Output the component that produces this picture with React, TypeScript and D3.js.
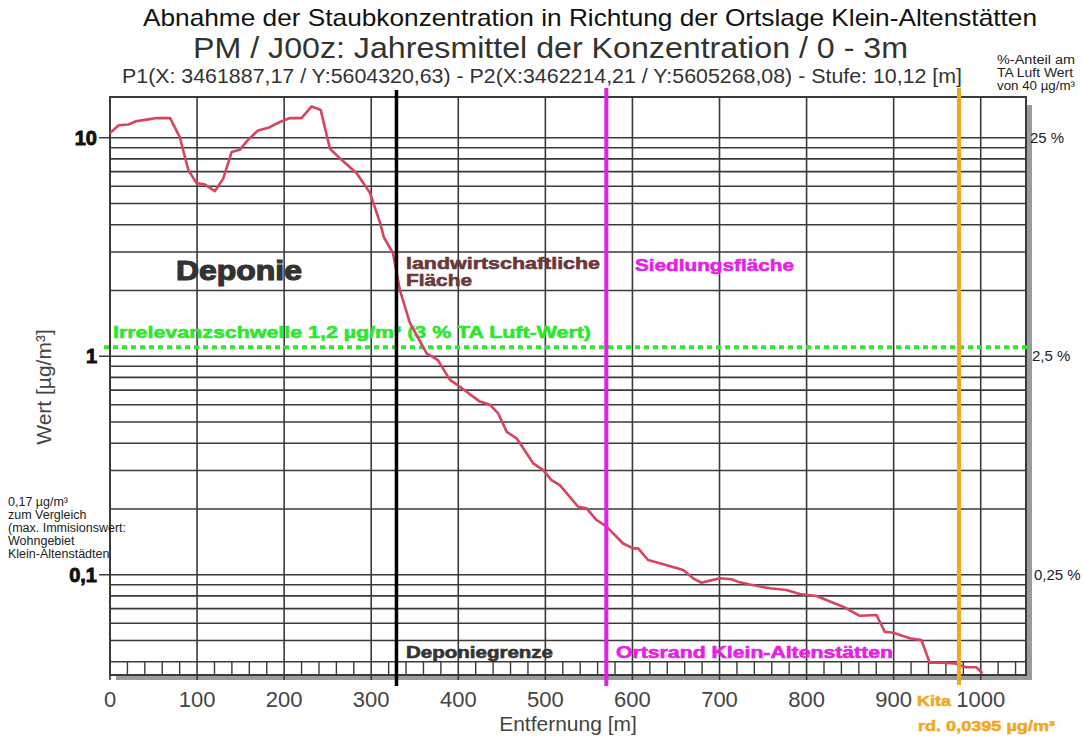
import React from "react";
import * as d3 from "d3";

const distances = [0, 10, 21, 30, 42, 54, 69, 80, 90, 99.5, 109, 120.5, 130, 139.7, 149, 158.8, 170, 181.7, 195, 206.7, 220, 231.6, 242, 252.6, 264, 283, 298.5, 310, 314.6, 325, 333, 344.4, 363.6, 376.6, 390.4, 401.8, 424.8, 436.3, 445.8, 455.5, 467, 486, 497.5, 507, 516.6, 537.6, 547.3, 558.8, 570.3, 589.3, 600.8, 606.5, 618, 631.5, 658.3, 669.8, 679.3, 688.9, 700.3, 713.8, 723.3, 734.8, 757.8, 776.9, 792.2, 811.4, 830.5, 842, 861, 880.3, 889.8, 899.4, 918.5, 931.9, 941.4, 956.7, 970, 983.6, 995, 1002];
const values = [10.5, 11.4, 11.5, 11.9, 12.1, 12.3, 12.3, 10.1, 7.1, 6.2, 6.1, 5.7, 6.5, 8.6, 8.8, 9.8, 10.8, 11.1, 11.8, 12.3, 12.3, 13.9, 13.4, 8.9, 8.05, 6.9, 5.6, 4.1, 3.5, 2.96, 2.0, 1.42, 1.03, 0.96, 0.78, 0.725, 0.62, 0.6, 0.548, 0.451, 0.421, 0.3235, 0.301, 0.271, 0.257, 0.2048, 0.2013, 0.178, 0.166, 0.139, 0.132, 0.132, 0.1168, 0.1128, 0.105, 0.0963, 0.0919, 0.094, 0.0963, 0.0953, 0.0923, 0.0902, 0.0867, 0.0851, 0.0816, 0.0799, 0.0744, 0.0714, 0.0649, 0.0654, 0.0548, 0.0543, 0.0512, 0.0502, 0.0396, 0.0396, 0.0393, 0.0377, 0.0377, 0.0354];

const xDomain = [0, 1052];
const yDomain = [0.03477, 15.36];
const xTicks = [0, 100, 200, 300, 400, 500, 600, 700, 800, 900, 1000];
const yMajorTicks = [10, 1, 0.1];
const yMajorLabels = ["10", "1", "0,1"];
const yGridValues = [10, 9, 8, 7, 6, 5, 4, 3, 2, 1, 0.9, 0.8, 0.7, 0.6, 0.5, 0.4, 0.3, 0.2, 0.1, 0.09, 0.08, 0.07, 0.06, 0.05, 0.04];
const percentLabels = ["25 %", "2,5 %", "0,25 %"];
const threshold = 1.1;
const deponieGrenze = 329;
const ortsrand = 570;
const kita = 975;

const titleLines = [
  "Abnahme der Staubkonzentration in Richtung der Ortslage Klein-Altenstätten",
  "PM / J00z: Jahresmittel der Konzentration / 0 - 3m",
  "P1(X: 3461887,17 / Y:5604320,63) - P2(X:3462214,21 / Y:5605268,08) - Stufe: 10,12 [m]",
];
const noteRight = ["%-Anteil am", "TA Luft Wert", "von 40 µg/m³"];
const noteLeft = ["0,17 µg/m³", "zum Vergleich", "(max. Immisionswert:", "Wohngebiet", "Klein-Altenstädten"];

export default function App() {
  const W = 1084, H = 739;
  const left = 110, right = 1026, top = 97, bottom = 675;
  const x = d3.scaleLinear().domain(xDomain).range([left, right]);
  const y = d3.scaleLog().domain(yDomain).range([bottom, top]);
  const pts: [number, number][] = distances.map((d, i) => [d, values[i]]);
  const line = d3.line<[number, number]>().x(d => x(d[0])).y(d => y(d[1]));
  const minorTicks = d3.range(20, 1050, 20).filter(v => v % 100 !== 0);
  const font = "'Liberation Sans', Arial, sans-serif";
  const grid = "#3a3a3a";
  const heavy = (c: string, w = 0.7) => ({ fill: c, stroke: c, strokeWidth: w });

  return (
    <svg width={W} height={H} style={{ position: "absolute", left: 0, top: 0, background: "#fff" }} fontFamily={font}>
      <rect x={0} y={0} width={W} height={H} fill="#fff" />
      {/* titles */}
      <text x={143} y={26} fontSize={24} fill="#111" textLength={894} lengthAdjust="spacingAndGlyphs">{titleLines[0]}</text>
      <text x={193} y={58} fontSize={29} fill="#333" textLength={715} lengthAdjust="spacingAndGlyphs">{titleLines[1]}</text>
      <text x={122} y={83} fontSize={20} fill="#333" textLength={840} lengthAdjust="spacingAndGlyphs">{titleLines[2]}</text>
      {noteRight.map((t, i) => (
        <text key={t} x={997} y={64 + i * 13} fontSize={12.5} fill="#222" textLength={[78, 76, 78][i]} lengthAdjust="spacingAndGlyphs">{t}</text>
      ))}
      {/* shadows */}
      <rect x={right + 1} y={top + 8} width={5} height={bottom - top - 3} fill="#9a9aa2" />
      <rect x={left + 6} y={bottom} width={right - left} height={5} fill="#9a9aa2" />
      {/* horizontal grid */}
      {yGridValues.map(v => (
        <line key={v} x1={left} x2={right} y1={y(v)} y2={y(v)} stroke={grid} strokeWidth={1.6} />
      ))}
      {/* vertical grid */}
      {xTicks.map(v => (
        <line key={v} x1={x(v)} x2={x(v)} y1={top} y2={bottom + 5} stroke={grid} strokeWidth={1.6} />
      ))}
      {minorTicks.map(v => (
        <line key={"m" + v} x1={x(v)} x2={x(v)} y1={y(0.04)} y2={bottom} stroke={grid} strokeWidth={1.4} />
      ))}
      <rect x={left} y={top} width={right - left} height={bottom - top} fill="none" stroke={grid} strokeWidth={2} />
      {/* y ticks */}
      {yMajorTicks.map((v, i) => (
        <g key={v}>
          <line x1={left - 11} x2={left} y1={y(v)} y2={y(v)} stroke={grid} strokeWidth={1.5} />
          <text x={left - 13} y={y(v) + 7} fontSize={20} fontWeight={900} textAnchor="end" {...heavy("#111", 0.9)}>{yMajorLabels[i]}</text>
          <text x={right + 4 + i * 2} y={y(v) + 5} fontSize={15} fill="#222">{percentLabels[i]}</text>
        </g>
      ))}
      {/* x tick labels */}
      {xTicks.map(v => (
        <text key={v} x={x(v)} y={707} fontSize={22} textAnchor="middle" fill="#444">{v}</text>
      ))}
      <text x={568} y={731} fontSize={21} textAnchor="middle" fill="#444">Entfernung [m]</text>
      <text transform="translate(51,387) rotate(-90)" fontSize={21} textAnchor="middle" fill="#444">Wert [µg/m³]</text>
      {noteLeft.map((t, i) => (
        <text key={t} x={8} y={506 + i * 12.9} fontSize={12.5} fill="#222">{t}</text>
      ))}
      {/* threshold */}
      <line x1={104} x2={1031} y1={y(threshold)} y2={y(threshold)} stroke="#2ee62e" strokeWidth={4} strokeDasharray="5,4" />
      <text x={113} y={338} fontSize={17} fontWeight="bold" {...heavy("#2ee62e", 0.6)} textLength={478} lengthAdjust="spacingAndGlyphs">Irrelevanzschwelle 1,2 µg/m³ (3 % TA Luft-Wert)</text>
      {/* data line */}
      <path d={line(pts) ?? ""} fill="none" stroke="#d8435e" strokeWidth={2.6} strokeLinejoin="round" />
      {/* markers */}
      <line x1={x(deponieGrenze)} x2={x(deponieGrenze)} y1={90} y2={686} stroke="#000" strokeWidth={3.5} />
      <line x1={x(ortsrand)} x2={x(ortsrand)} y1={88} y2={686} stroke="#e61ee6" strokeWidth={4} />
      <line x1={x(kita)} x2={x(kita)} y1={88} y2={685} stroke="#f2a81e" strokeWidth={4} />
      {/* region labels */}
      <text x={176} y={280} fontSize={28} fontWeight={900} {...heavy("#333", 1.2)} textLength={126} lengthAdjust="spacingAndGlyphs">Deponie</text>
      <text x={406} y={269} fontSize={17} fontWeight="bold" {...heavy("#6b3838", 0.6)} textLength={194} lengthAdjust="spacingAndGlyphs">landwirtschaftliche</text>
      <text x={406} y={286} fontSize={17} fontWeight="bold" {...heavy("#6b3838", 0.6)} textLength={66} lengthAdjust="spacingAndGlyphs">Fläche</text>
      <text x={635} y={271} fontSize={17} fontWeight="bold" {...heavy("#e61ee6", 0.6)} textLength={159} lengthAdjust="spacingAndGlyphs">Siedlungsfläche</text>
      <text x={406} y={658} fontSize={16} fontWeight="bold" {...heavy("#333", 0.6)} textLength={147} lengthAdjust="spacingAndGlyphs">Deponiegrenze</text>
      <text x={616} y={658} fontSize={16} fontWeight="bold" {...heavy("#e61ee6", 0.6)} textLength={277} lengthAdjust="spacingAndGlyphs">Ortsrand Klein-Altenstätten</text>
      <text x={917} y={706} fontSize={15} fontWeight="bold" {...heavy("#f2a81e", 0.5)} textLength={34} lengthAdjust="spacingAndGlyphs">Kita</text>
      <text x={918} y={731} fontSize={15} fontWeight="bold" {...heavy("#f2a81e", 0.5)} textLength={137} lengthAdjust="spacingAndGlyphs">rd. 0,0395 µg/m³</text>
    </svg>
  );
}
